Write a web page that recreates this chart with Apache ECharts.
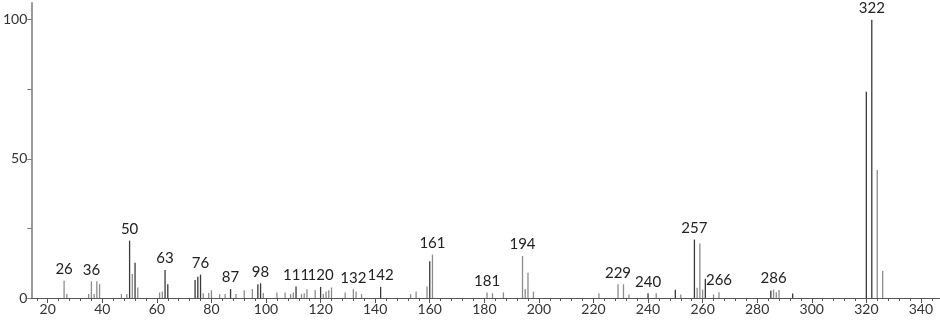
<!DOCTYPE html>
<html>
<head>
<meta charset="utf-8">
<script src="https://cdn.jsdelivr.net/npm/echarts@6/dist/echarts.min.js"></script>
<style>
html,body{margin:0;padding:0;background:#fff;}
#chart{width:940px;height:320px;}
</style>
</head>
<body>
<div id="chart"></div>
<script>
// m/z and relative intensity, darker peaks
const darkMz =  [50, 52, 63, 64, 74, 75, 76, 87, 97, 98, 111, 120, 142, 160, 240, 250, 257, 261, 285, 293, 320, 322];
const darkInt = [20.6, 12.7, 10.1, 4.9, 6.5, 7.6, 8.4, 3.2, 4.9, 5.3, 4.1, 4.0, 4.0, 13.2, 1.7, 3.0, 21.0, 6.9, 2.7, 1.6, 74.1, 100];
// lighter peaks
const grayMz =  [26, 27, 35, 36, 37, 38, 39, 47, 49, 51, 53, 61, 62, 77, 79, 80, 83, 85, 89, 92, 95, 99, 104, 107, 109, 110, 113, 114, 115, 118, 121, 122, 123, 124, 129, 132, 133, 135, 153, 155, 159, 161, 181, 183, 187, 194, 195, 196, 198, 222, 229, 231, 233, 243, 252, 258, 259, 260, 264, 266, 286, 287, 288, 324, 326];
const grayInt = [6.2, 1.4, 1.4, 6.0, 1.4, 6.0, 5.0, 1.4, 1.4, 8.6, 3.8, 2.0, 2.3, 1.7, 1.8, 2.8, 1.4, 1.4, 1.4, 2.8, 3.2, 1.8, 2.0, 2.0, 1.4, 2.0, 1.4, 1.7, 3.1, 2.9, 1.4, 2.3, 2.8, 3.8, 2.0, 3.1, 2.3, 1.4, 1.4, 2.3, 4.1, 15.6, 2.0, 1.7, 2.0, 15.1, 3.2, 9.1, 2.3, 1.7, 4.9, 4.9, 1.3, 1.7, 1.3, 3.7, 19.6, 3.0, 1.3, 2.1, 3.0, 2.1, 2.9, 46.0, 9.7];
// peaks carrying an m/z label
const labeledMz = [26, 36, 50, 63, 76, 87, 98, 111, 120, 132, 142, 161, 181, 194, 229, 240, 257, 266, 286, 322];
// axis ticks
const xTicks = [20, 40, 60, 80, 100, 120, 140, 160, 180, 200, 220, 240, 260, 280, 300, 320, 340];
const xMinorTicks = [16, 24, 28, 32, 36, 44, 48, 52, 56, 64, 68, 72, 76, 84, 88, 92, 96, 104, 108, 112, 116, 124, 128, 132, 136, 144, 148, 152, 156, 164, 168, 172, 176, 184, 188, 192, 196, 204, 208, 212, 216, 224, 228, 232, 236, 244, 248, 252, 256, 264, 268, 272, 276, 284, 288, 292, 296, 304, 308, 312, 316, 324, 328, 332, 336, 344];
const yTicks = [0, 25, 50, 75, 100];
const yLabels = [0, 50, 100];

const FONT = 'Lato';
const labelSet = new Set(labeledMz);
function toData(mz, inten) {
  return mz.map((m, i) => [m, inten[i]]);
}
const barLabel = {
  show: true,
  position: 'top',
  distance: 4,
  fontFamily: FONT,
  fontSize: 15,
  color: '#222',
  formatter: p => labelSet.has(p.value[0]) ? String(p.value[0]) : ''
};

const chart = echarts.init(document.getElementById('chart'), null, {renderer: 'canvas'});
chart.setOption({
  animation: false,
  backgroundColor: '#fff',
  grid: {left: 29, right: 0, top: 3, bottom: 22, containLabel: false},
  xAxis: [{
    type: 'value', min: 14, max: 347,
    axisLine: {show: true, lineStyle: {color: '#555', width: 1}},
    axisTick: {show: true, length: 5, customValues: xTicks, lineStyle: {color: '#555'}},
    axisLabel: {customValues: xTicks, fontFamily: FONT, fontSize: 14, color: '#333', margin: 4},
    splitLine: {show: false}
  }, {
    type: 'value', min: 14, max: 347, position: 'bottom',
    axisLine: {show: false},
    axisTick: {show: true, length: 3, customValues: xMinorTicks, lineStyle: {color: '#555'}},
    axisLabel: {show: false},
    splitLine: {show: false}
  }],
  yAxis: {
    type: 'value', min: 0, max: 106,
    axisLine: {show: true, lineStyle: {color: '#999', width: 2}},
    axisTick: {show: true, length: 4, customValues: yTicks, lineStyle: {color: '#777'}},
    axisLabel: {customValues: yLabels, fontFamily: FONT, fontSize: 14, color: '#333', margin: 4},
    splitLine: {show: false}
  },
  series: [{
    type: 'bar', name: 'dark', xAxisIndex: 0,
    data: toData(darkMz, darkInt),
    barWidth: 1.3, barGap: '-100%',
    itemStyle: {color: '#3a3a3a'},
    label: barLabel
  }, {
    type: 'bar', name: 'gray', xAxisIndex: 0,
    data: toData(grayMz, grayInt),
    barWidth: 1.3, barGap: '-100%',
    itemStyle: {color: '#8c8c8c'},
    label: barLabel
  }]
});
</script>
</body>
</html>
